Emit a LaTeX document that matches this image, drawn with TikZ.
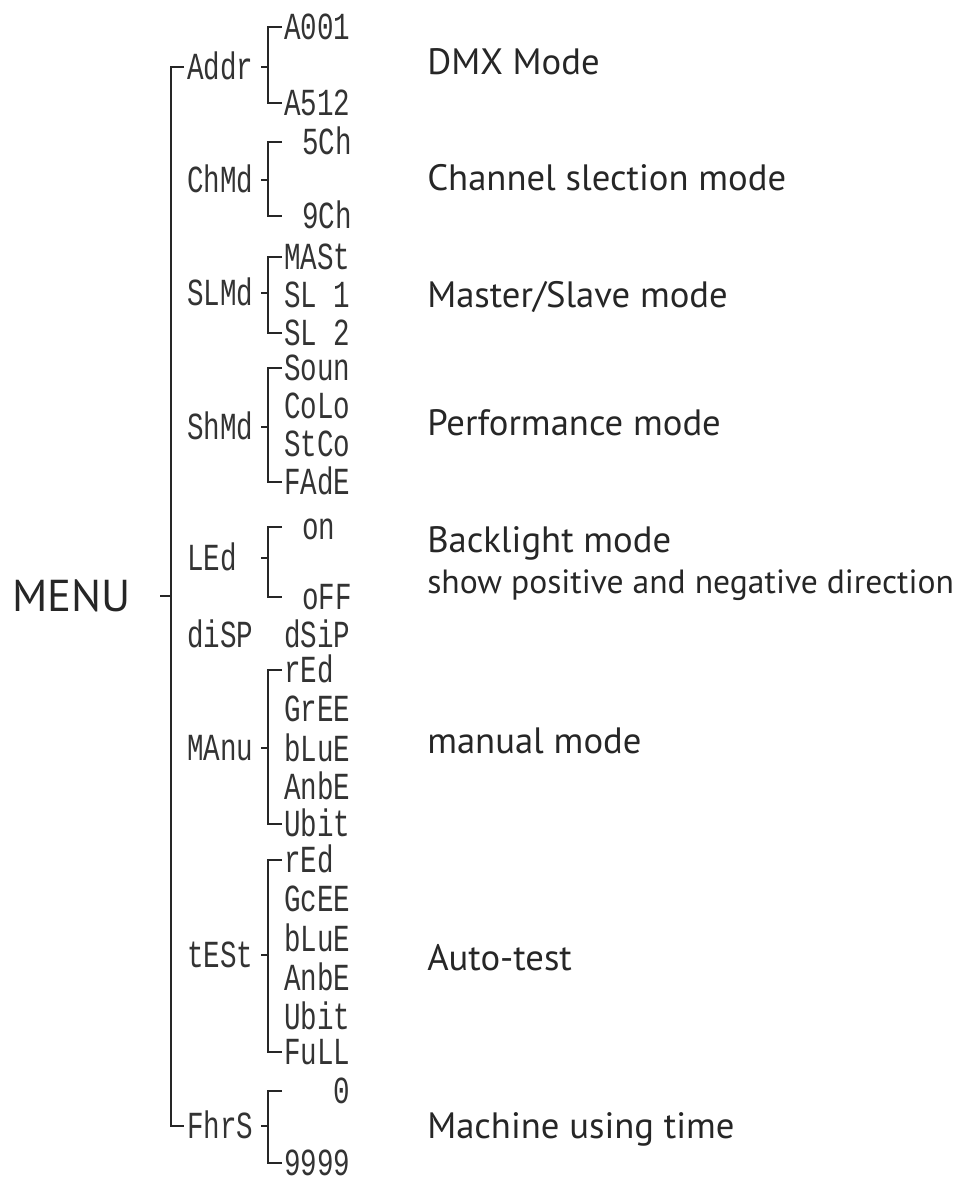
\documentclass[tikz,border=0pt]{standalone}
\usepackage{fontspec}
\setmainfont{PT Sans}
\newfontfamily\segfont[FakeStretch=0.72]{Liberation Mono}

\begin{document}
\begin{tikzpicture}[x=0.75pt, y=-0.75pt,
    line/.style={line width=1.8pt, black!85},
    seg/.style={font=\segfont\fontsize{28.7}{30}\selectfont, text=black!80,
      inner sep=0pt, outer sep=2.25pt, text height=19pt, text depth=0pt,
      anchor=west},
    desc/.style={font=\fontsize{27.5}{32}\selectfont, text=black!85,
      inner sep=0pt, anchor=base west},
    note/.style={desc, font=\fontsize{25.2}{28}\selectfont}
  ]
  \useasboundingbox (0,0) rectangle (962,1182);

  % columns of the tree
  \coordinate (trunk) at (171,596);
  \coordinate (menutick) at (160,596);
  \coordinate (tickx) at (261,0);
  \coordinate (brx) at (268,0);
  \coordinate (armx) at (282,0);

  \node[desc, font=\fontsize{33.5}{38}\selectfont] (menu) at (12,611) {MENU};

  % first level
  \node[seg] (addr) at (184,67) {Addr};
  \node[seg] (chmd) at (184,180) {ChMd};
  \node[seg] (slmd) at (184,293) {SLMd};
  \node[seg] (shmd) at (184,427) {ShMd};
  \node[seg] (led)  at (184,558) {LEd};
  \node[seg] (disp) at (184,635) {diSP};
  \node[seg] (manu) at (184,748) {MAnu};
  \node[seg] (test) at (184,955) {tESt};
  \node[seg] (fhrs) at (184,1126) {FhrS};

  % second level
  \foreach \n/\y/\t in {a001/27/A001, a512/103/A512, mast/257/MASt,
      sl1/295/SL 1, sl2/333/SL 2, soun/368/Soun, colo/406/CoLo,
      stco/444/StCo, fade/482/FAdE, dsip/635/dSiP,
      mred/670/rEd, mgree/709/GrEE, mblue/749/bLuE, mambe/787/AnbE,
      mwhit/824/Ubit, tred/860/rEd, tgree/899/GcEE, tblue/939/bLuE,
      tambe/978/AnbE, twhit/1017/Ubit, full/1052/FuLL, nines/1163/9999}
    \node[seg] (\n) at (281,\y) {\t};
  \node[seg] (ch5) at (299,142) {5Ch};
  \node[seg] (ch9) at (299,216) {9Ch};
  \node[seg] (on)  at (299,527) {on};
  \node[seg] (off) at (299,597) {oFF};
  \node[seg, anchor=east] (zero) at (353,1091) {0};

  % descriptions
  \node[desc] (dmx)    at (427,74)   {DMX Mode};
  \node[desc] (chan)   at (427,190)  {Channel slection mode};
  \node[desc] (master) at (427,307)  {Master/Slave mode};
  \node[desc] (perf)   at (427,435)  {Performance mode};
  \node[desc] (back)   at (427,552)  {Backlight mode};
  \node[note] (dir)    at (427,593)  {show positive and negative direction};
  \node[desc] (manual) at (427,753)  {manual mode};
  \node[desc] (auto)   at (427,970)  {Auto-test};
  \node[desc] (time)   at (427,1138) {Machine using time};

  \draw[line] (addr.west) -| (trunk) |- (fhrs.west);
  \draw[line] (menutick) -- (trunk);
  \foreach \p/\a/\b in {addr/a001/a512, chmd/ch5/ch9, slmd/mast/sl2,
      shmd/soun/fade, led/on/off, manu/mred/mwhit, test/tred/full,
      fhrs/zero/nines}
    \draw[line] (armx |- \a) -- (brx |- \a) -- (brx |- \b) -- (armx |- \b)
      (tickx |- \p) -- (brx |- \p);
\end{tikzpicture}
\end{document}
